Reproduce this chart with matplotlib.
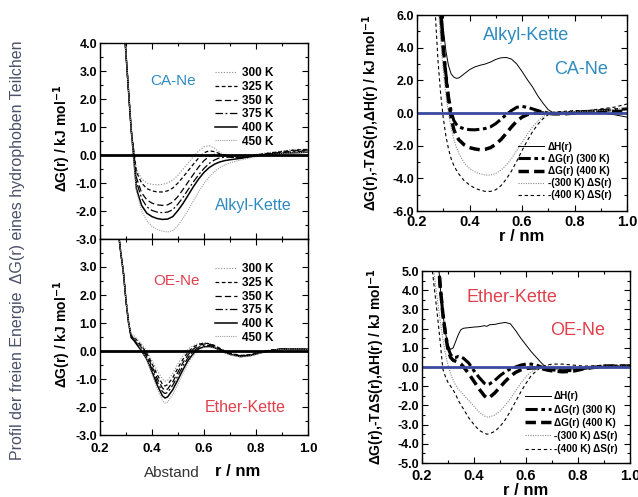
import matplotlib
matplotlib.use("Agg")
import matplotlib.pyplot as plt
from matplotlib.ticker import MultipleLocator
from matplotlib import font_manager

# ---- data ----
temps = ["300 K", "325 K", "350 K", "375 K", "400 K", "450 K"]

# CA-Ne, Alkyl-Kette (left top)
r_ca = [0.26, 0.28, 0.30, 0.32, 0.34, 0.36, 0.38, 0.40, 0.42, 0.44, 0.46, 0.48, 0.50,
        0.52, 0.54, 0.56, 0.58, 0.60, 0.62, 0.64, 0.66, 0.68, 0.70, 0.74, 0.78, 0.82,
        0.86, 0.90, 0.95, 1.00]
wall_ca = [9.0, 6.3, 3.6, 0.9]
dg_ca = {
    "300 K": [-0.5, -0.85, -1.0, -1.05, -1.07, -1.05, -1.0, -0.9, -0.72, -0.5, -0.28, -0.05, 0.15,
              0.3, 0.33, 0.25, 0.1, 0.0, -0.05, -0.05, 0.0, 0.05, 0.1, 0.15, 0.2, 0.2],
    "325 K": [-0.6, -1.0, -1.2, -1.28, -1.32, -1.32, -1.28, -1.18, -1.0, -0.78, -0.55, -0.32, -0.1,
              0.08, 0.15, 0.12, 0.05, 0.0, -0.05, -0.08, -0.03, 0.03, 0.08, 0.12, 0.18, 0.2],
    "350 K": [-0.8, -1.35, -1.6, -1.72, -1.78, -1.8, -1.78, -1.68, -1.48, -1.22, -0.95, -0.68, -0.42,
              -0.2, -0.05, 0.02, 0.02, 0.0, -0.05, -0.1, -0.05, 0.02, 0.06, 0.1, 0.15, 0.18],
    "375 K": [-0.95, -1.55, -1.85, -1.98, -2.04, -2.06, -2.04, -1.95, -1.75, -1.5, -1.22, -0.95, -0.7,
              -0.48, -0.3, -0.18, -0.1, -0.08, -0.08, -0.1, -0.06, 0.0, 0.05, 0.08, 0.12, 0.15],
    "400 K": [-1.2, -1.8, -2.08, -2.2, -2.27, -2.3, -2.29, -2.2, -1.98, -1.72, -1.42, -1.12, -0.85,
              -0.62, -0.45, -0.33, -0.25, -0.2, -0.17, -0.12, -0.06, 0.0, 0.03, 0.06, 0.08, 0.1],
    "450 K": [-1.3, -2.0, -2.35, -2.55, -2.66, -2.72, -2.75, -2.7, -2.52, -2.25, -1.95, -1.62, -1.3,
              -1.02, -0.78, -0.6, -0.45, -0.35, -0.28, -0.18, -0.1, -0.02, 0.02, 0.05, 0.08, 0.1],
}

# OE-Ne, Ether-Kette (left bottom)
r_oe = [0.25, 0.27, 0.28, 0.29, 0.30, 0.31, 0.32, 0.33, 0.34, 0.36, 0.38, 0.40, 0.42, 0.44,
        0.45, 0.46, 0.48, 0.50, 0.52, 0.54, 0.56, 0.58, 0.60, 0.62, 0.64, 0.66, 0.68, 0.70,
        0.74, 0.78, 0.82, 0.86, 0.90, 0.95, 1.00]
wall_oe = [7.5, 4.3, 3.5, 2.8, 1.8, 1.0]
dg_oe = {
    "300 K": [0.6, 0.55, 0.45, 0.25, 0.0, -0.35, -0.7, -1.0, -1.08, -1.05, -0.8, -0.45, -0.15, 0.08,
              0.2, 0.27, 0.3, 0.27, 0.2, 0.1, 0.0, -0.08, -0.15, -0.12, -0.02, 0.04, 0.08, 0.08, 0.06],
    "325 K": [0.55, 0.5, 0.4, 0.18, -0.08, -0.45, -0.85, -1.18, -1.25, -1.2, -0.95, -0.6, -0.28, -0.02,
              0.15, 0.24, 0.28, 0.26, 0.2, 0.1, 0.0, -0.08, -0.16, -0.13, -0.03, 0.04, 0.08, 0.08, 0.06],
    "350 K": [0.52, 0.45, 0.35, 0.12, -0.15, -0.55, -0.98, -1.32, -1.4, -1.36, -1.1, -0.75, -0.4, -0.12,
              0.08, 0.2, 0.25, 0.24, 0.18, 0.08, -0.02, -0.1, -0.18, -0.14, -0.04, 0.03, 0.07, 0.08, 0.06],
    "375 K": [0.5, 0.42, 0.3, 0.06, -0.22, -0.65, -1.1, -1.45, -1.52, -1.48, -1.22, -0.88, -0.52, -0.22,
              0.0, 0.14, 0.2, 0.2, 0.15, 0.06, -0.03, -0.1, -0.19, -0.15, -0.05, 0.03, 0.07, 0.08, 0.06],
    "400 K": [0.48, 0.38, 0.25, 0.0, -0.3, -0.75, -1.22, -1.6, -1.68, -1.64, -1.38, -1.02, -0.65, -0.32,
              -0.08, 0.08, 0.15, 0.16, 0.12, 0.04, -0.05, -0.12, -0.2, -0.16, -0.06, 0.02, 0.06, 0.08, 0.06],
    "450 K": [0.6, 0.5, 0.35, 0.05, -0.32, -0.82, -1.35, -1.76, -1.86, -1.82, -1.55, -1.18, -0.78, -0.42,
              -0.15, 0.03, 0.12, 0.14, 0.1, 0.02, -0.07, -0.14, -0.22, -0.18, -0.07, 0.02, 0.06, 0.08, 0.06],
}

# decomposition, CA-Ne (right top)
r_rt = [0.26, 0.27, 0.28, 0.29, 0.30, 0.31, 0.32, 0.33, 0.34, 0.35, 0.36, 0.38, 0.40, 0.42,
        0.44, 0.46, 0.48, 0.50, 0.52, 0.54, 0.56, 0.58, 0.60, 0.62, 0.64, 0.66, 0.68, 0.70,
        0.72, 0.76, 0.80, 0.85, 0.90, 0.95, 1.00]
dh_rt = [15, 13, 10.5, 7.5, 5.2, 3.8, 2.9, 2.4, 2.2, 2.12, 2.15, 2.4, 2.65, 2.82, 2.92, 3.0, 3.12,
         3.28, 3.38, 3.4, 3.3, 3.0, 2.55, 2.05, 1.6, 1.05, 0.6, 0.2, 0.0, -0.05, -0.05, 0.0, 0.0,
         -0.1, -0.25]
dg300_rt = [15, 13, 9.5, 6.2, 4.0, 2.4, 1.0, 0.1, -0.45, -0.7, -0.85, -0.97, -1.02, -1.03, -1.0,
            -0.95, -0.85, -0.65, -0.38, -0.1, 0.15, 0.35, 0.4, 0.35, 0.25, 0.15, 0.05, 0.0, -0.03,
            0.0, 0.05, 0.1, 0.15, 0.2, 0.25]
dg400_rt = [15, 13, 9.5, 6.2, 3.9, 2.2, 0.7, -0.3, -1.0, -1.4, -1.65, -1.95, -2.12, -2.2, -2.25,
            -2.22, -2.12, -1.92, -1.62, -1.25, -0.85, -0.5, -0.25, -0.1, -0.03, 0.0, 0.0, -0.02,
            -0.05, -0.05, 0.0, 0.05, 0.08, 0.1, 0.1]
tds300_rt = [14, 9.0, 6.8, 4.5, 2.6, 1.1, 0.0, -0.9, -1.6, -2.1, -2.5, -3.05, -3.4, -3.6, -3.72,
             -3.8, -3.8, -3.7, -3.5, -3.2, -2.8, -2.3, -1.8, -1.3, -0.85, -0.5, -0.2, -0.05, 0.05,
             0.05, 0.1, 0.1, 0.15, 0.2, 0.35]
tds400_rt = [10, 6.0, 3.2, 1.2, -0.3, -1.4, -2.2, -2.8, -3.2, -3.5, -3.75, -4.15, -4.4, -4.6, -4.72,
             -4.8, -4.8, -4.7, -4.45, -4.05, -3.55, -2.95, -2.3, -1.7, -1.15, -0.7, -0.35, -0.1,
             0.05, 0.1, 0.15, 0.15, 0.25, 0.35, 0.55]

# decomposition, OE-Ne (right bottom)
r_rb = [0.24, 0.25, 0.26, 0.27, 0.28, 0.29, 0.30, 0.31, 0.32, 0.33, 0.34, 0.35, 0.36, 0.38,
        0.40, 0.42, 0.44, 0.45, 0.46, 0.48, 0.50, 0.52, 0.54, 0.56, 0.58, 0.60, 0.62, 0.64,
        0.66, 0.68, 0.70, 0.74, 0.78, 0.82, 0.86, 0.90, 0.95, 1.00]
dh_rb = [12, 8.5, 6.0, 4.2, 2.8, 1.8, 1.1, 0.92, 1.0, 1.35, 1.7, 1.95, 2.02, 2.05, 2.08, 2.1, 2.15,
         2.12, 2.2, 2.22, 2.28, 2.32, 2.25, 1.9, 1.5, 1.15, 0.8, 0.5, 0.2, -0.05, -0.1, -0.1, -0.1,
         -0.05, 0.0, 0.05, 0.05, 0.0]
dg300_rb = [12, 8.5, 6.0, 4.2, 2.8, 1.8, 1.0, 0.65, 0.5, 0.5, 0.55, 0.52, 0.45, 0.2, -0.2, -0.55,
            -0.85, -0.92, -0.88, -0.7, -0.45, -0.25, -0.1, 0.0, 0.1, 0.15, 0.15, 0.1, 0.0, -0.08,
            -0.15, -0.2, -0.18, -0.08, 0.0, 0.05, 0.05, 0.05]
dg400_rb = [12, 8.5, 6.0, 4.2, 2.8, 1.7, 0.9, 0.5, 0.35, 0.3, 0.25, 0.15, 0.0, -0.35, -0.75, -1.15,
            -1.5, -1.62, -1.58, -1.35, -1.05, -0.75, -0.48, -0.28, -0.15, -0.08, -0.05, -0.05,
            -0.08, -0.15, -0.2, -0.25, -0.22, -0.1, -0.02, 0.03, 0.05, 0.05]
tds300_rb = [5.5, 4.5, 3.4, 2.4, 1.5, 0.7, 0.1, -0.35, -0.7, -0.95, -1.15, -1.3, -1.45, -1.75, -2.05,
             -2.35, -2.55, -2.6, -2.6, -2.5, -2.3, -2.0, -1.65, -1.25, -0.85, -0.5, -0.25, -0.1,
             0.0, 0.05, 0.05, 0.0, -0.05, 0.0, 0.05, 0.05, 0.05, 0.05]
tds400_rb = [5.0, 3.8, 2.6, 1.3, -0.1, -0.5, -0.8, -1.0, -1.2, -1.45, -1.75, -1.98, -2.2, -2.65, -3.0,
             -3.3, -3.45, -3.5, -3.48, -3.35, -3.1, -2.75, -2.3, -1.8, -1.3, -0.85, -0.45, -0.2,
             0.0, 0.1, 0.15, 0.15, 0.1, 0.05, 0.05, 0.1, 0.05, 0.05]

decomp_labels = ["ΔH(r)", "ΔG(r) (300 K)", "ΔG(r) (400 K)", "-(300 K) ΔS(r)", "-(400 K) ΔS(r)"]

# ---- styles ----
names = [f.name for f in font_manager.fontManager.ttflist]
narrow = "Liberation Sans Narrow" if "Liberation Sans Narrow" in names else "Liberation Sans"
plt.rcParams["font.family"] = ["Liberation Sans", "DejaVu Sans"]
plt.rcParams["mathtext.default"] = "bf"

temp_styles = {
    "300 K": dict(color="#8a8a8a", lw=0.8, ls=(0, (1, 1.5))),
    "325 K": dict(color="black", lw=0.9, ls=(0, (3, 2))),
    "350 K": dict(color="black", lw=0.9, ls=(0, (5, 2.5))),
    "375 K": dict(color="black", lw=0.9, ls=(0, (6, 2, 1.5, 2))),
    "400 K": dict(color="black", lw=1.1, ls="-"),
    "450 K": dict(color="#a0a0a0", lw=0.8, ls=(0, (1, 1))),
}
decomp_styles = [
    dict(color="black", lw=0.7, ls="-"),
    dict(color="black", lw=2.2, ls=(0, (4, 1.2, 1.2, 1.2))),
    dict(color="black", lw=2.5, ls=(0, (3, 1.5))),
    dict(color="#8a8a8a", lw=0.8, ls=(0, (1, 1.2))),
    dict(color="black", lw=0.8, ls=(0, (3, 2.5))),
]
blue = "#2e8bc0"
red = "#e0404c"
zero_blue = "#3b4aa0"

W, H = 638, 497


def box(x0, y0, x1, y1):
    return [x0 / W, 1 - y1 / H, (x1 - x0) / W, (y1 - y0) / H]


def style_ax(ax, ylo, yhi, ymaj, ymin, xlabels=True, fs=8.5, xfs=8.5, xpad=2):
    ax.set_xlim(0.2, 1.0)
    ax.set_ylim(ylo, yhi)
    ax.xaxis.set_major_locator(MultipleLocator(0.2))
    ax.xaxis.set_minor_locator(MultipleLocator(0.1))
    ax.yaxis.set_major_locator(MultipleLocator(ymaj))
    ax.yaxis.set_minor_locator(MultipleLocator(ymin))
    ax.tick_params(which="both", direction="in", top=True, right=True, width=0.8)
    ax.tick_params(which="major", length=4, pad=2)
    ax.tick_params(axis="x", which="major", pad=xpad)
    ax.tick_params(which="minor", length=2)
    ax.yaxis.set_major_formatter(plt.FuncFormatter(lambda v, p: f"{v:.1f}"))
    ax.xaxis.set_major_formatter(plt.FuncFormatter(lambda v, p: f"{v:.1f}"))
    for lab in ax.get_yticklabels():
        lab.set_fontweight("bold")
        lab.set_fontsize(fs)
        lab.set_family(narrow)
    for lab in ax.get_xticklabels():
        lab.set_fontweight("bold")
        lab.set_fontsize(xfs)
        lab.set_family(narrow)
    if not xlabels:
        ax.set_xticklabels([])
    for s in ax.spines.values():
        s.set_linewidth(1.0)


fig = plt.figure(figsize=(W / 100, H / 100), dpi=100)
legend_l = dict(loc="upper left", frameon=False, handlelength=1.9, handletextpad=0.4,
                labelspacing=0.14, prop=dict(family=narrow, weight="bold", size=8.5))
legend_r = dict(loc="upper left", frameon=False, handlelength=2.6, handletextpad=0.35,
                prop=dict(family=narrow, weight="bold", size=7.2))

# left top
ax1 = fig.add_axes(box(100, 43, 308, 239))
for t in temps:
    ax1.plot(r_ca, wall_ca + dg_ca[t], label=t, **temp_styles[t])
ax1.axhline(0, color="black", lw=2.0)
style_ax(ax1, -3, 4, 1.0, 0.5, xlabels=False, fs=9)
ax1.legend(bbox_to_anchor=(0.50, 0.93), **legend_l)
ax1.text(0.35, 0.805, "CA-Ne", color=blue, fontsize=11, transform=ax1.transAxes, ha="center", va="center")
ax1.text(0.735, 0.17, "Alkyl-Kette", color=blue, fontsize=11.5, transform=ax1.transAxes, ha="center", va="center")

# left bottom
ax2 = fig.add_axes(box(100, 239, 308, 435))
for t in temps:
    ax2.plot(r_oe, wall_oe + dg_oe[t], label=t, **temp_styles[t])
ax2.axhline(0, color="black", lw=2.0)
style_ax(ax2, -3, 4, 1.0, 0.5, fs=9, xfs=9.5, xpad=6)
ax2.set_yticks([-3, -2, -1, 0, 1, 2, 3])
for lab in ax2.get_yticklabels():
    lab.set_fontweight("bold")
    lab.set_fontsize(9)
    lab.set_family(narrow)
ax2.legend(bbox_to_anchor=(0.50, 0.93), **legend_l)
ax2.text(0.37, 0.785, "OE-Ne", color=red, fontsize=11, transform=ax2.transAxes, ha="center", va="center")
ax2.text(0.70, 0.14, "Ether-Kette", color=red, fontsize=11.5, transform=ax2.transAxes, ha="center", va="center")

# right top
ax3 = fig.add_axes(box(417, 15, 627, 211))
for ys, lab, st in zip([dh_rt, dg300_rt, dg400_rt, tds300_rt, tds400_rt], decomp_labels, decomp_styles):
    ax3.plot(r_rt, ys, label=lab, **st)
ax3.axhline(0, color=zero_blue, lw=2.0)
style_ax(ax3, -6, 6, 2.0, 1.0, fs=9, xfs=10.5, xpad=3)
ax3.legend(bbox_to_anchor=(0.44, 0.40), labelspacing=0.22, **legend_r)
ax3.text(0.52, 0.895, "Alkyl-Kette", color=blue, fontsize=13, transform=ax3.transAxes, ha="center", va="center")
ax3.text(0.78, 0.72, "CA-Ne", color=blue, fontsize=13, transform=ax3.transAxes, ha="center", va="center")
ax3.set_xlabel("r / nm", fontweight="bold", fontsize=12, labelpad=0, family=narrow)

# right bottom
ax4 = fig.add_axes(box(422, 271, 630, 463))
for ys, lab, st in zip([dh_rb, dg300_rb, dg400_rb, tds300_rb, tds400_rb], decomp_labels, decomp_styles):
    ax4.plot(r_rb, ys, label=lab, **st)
ax4.axhline(0, color=zero_blue, lw=2.0)
style_ax(ax4, -5, 5, 1.0, 0.5, fs=9, xfs=10.5, xpad=4)
ax4.legend(bbox_to_anchor=(0.45, 0.42), labelspacing=0.32, **legend_r)
ax4.text(0.43, 0.86, "Ether-Kette", color=red, fontsize=13, transform=ax4.transAxes, ha="center", va="center")
ax4.text(0.75, 0.69, "OE-Ne", color=red, fontsize=13, transform=ax4.transAxes, ha="center", va="center")
ax4.set_xlabel("r / nm", fontweight="bold", fontsize=12, labelpad=0, family=narrow)

# axis labels
ylab_l = "ΔG(r) / kJ mol$^{-1}$"
fig.text(62 / W, 1 - 138 / H, ylab_l, rotation=90, ha="center", va="center", fontsize=10,
         fontweight="bold", family=narrow)
fig.text(62 / W, 1 - 334 / H, ylab_l, rotation=90, ha="center", va="center", fontsize=10,
         fontweight="bold", family=narrow)
ylab_r = "ΔG(r),-TΔS(r),ΔH(r) / kJ mol$^{-1}$"
fig.text(371 / W, 1 - 113 / H, ylab_r, rotation=90, ha="center", va="center", fontsize=10,
         fontweight="bold", family=narrow)
fig.text(376 / W, 1 - 367 / H, ylab_r, rotation=90, ha="center", va="center", fontsize=10,
         fontweight="bold", family=narrow)

fig.text(18 / W, 1 - 250 / H, "Profil der freien Energie  ΔG(r) eines hydrophoben Teilchen",
         rotation=90, ha="center", va="center", fontsize=11.5, color="#4a5068")
fig.text(172 / W, 1 - 473 / H, "Abstand", ha="center", va="center", fontsize=11, color="#333333")
fig.text(238 / W, 1 - 471 / H, "r / nm", ha="center", va="center", fontsize=12, fontweight="bold",
         family=narrow)

fig.savefig("out.png", dpi=100)
